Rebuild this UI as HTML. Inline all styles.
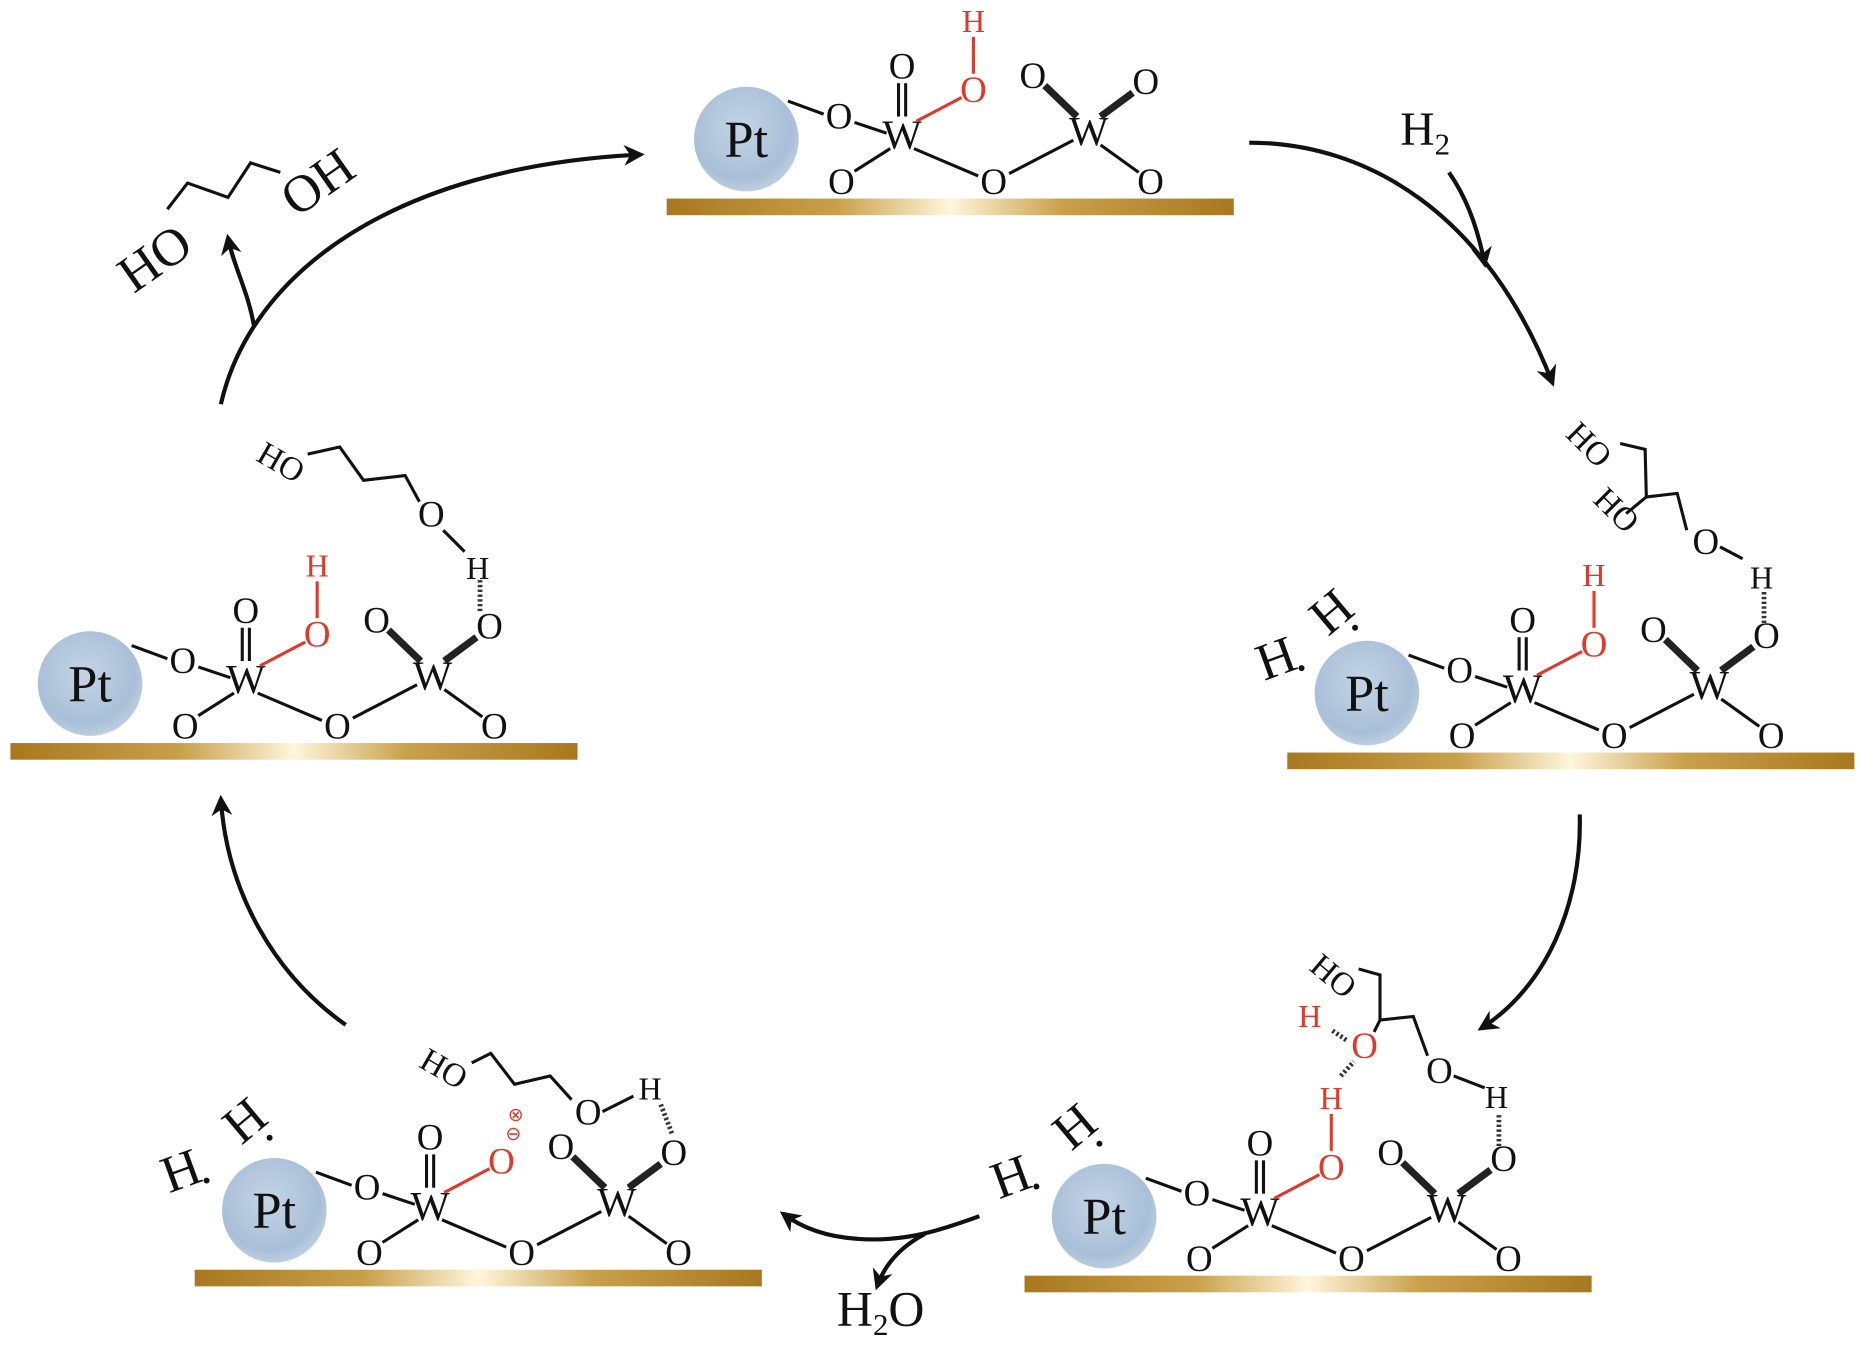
<!DOCTYPE html>
<html><head><meta charset="utf-8"><style>
html,body{margin:0;padding:0;background:#fff;}
svg{display:block}
text{font-family:"Liberation Serif",serif;fill:#111;text-anchor:middle}
.o{font-size:31px}
.w{font-size:35px}
.pt{font-size:44px}
.r{fill:#e0382a}
.b{stroke:#111;stroke-width:2.6;fill:none}
.rb{stroke:#e0382a;stroke-width:2.6;fill:none}
.tb{stroke:#222;stroke-width:6;fill:none}
.d{stroke:#333;stroke-width:4;stroke-dasharray:2 2;fill:none}
.ar{stroke:#111;stroke-width:3.5;fill:none}
.big{font-size:44px}
</style></head><body>
<svg width="1866" height="1347" viewBox="0 0 1568 1133" xmlns="http://www.w3.org/2000/svg">
<defs>
<linearGradient id="bar" x1="0" x2="1" y1="0" y2="0">
<stop offset="0" stop-color="#a8781e"/><stop offset="0.3" stop-color="#c9a04a"/>
<stop offset="0.5" stop-color="#fff6dc"/><stop offset="0.7" stop-color="#c9a04a"/>
<stop offset="1" stop-color="#a8781e"/></linearGradient>
<radialGradient id="ptg" cx="0.45" cy="0.4" r="0.6">
<stop offset="0" stop-color="#c4d4e6"/><stop offset="0.8" stop-color="#a9bfd8"/><stop offset="1" stop-color="#bccde0"/></radialGradient>
<marker id="ah" viewBox="0 0 10 10" refX="8" refY="5" markerWidth="5" markerHeight="5" orient="auto"><path d="M0,0 L10,5 L0,10 L3,5 z" fill="#111"/></marker>
</defs>

<!-- TOP UNIT -->
<g>
<rect x="560" y="167" width="477" height="14" fill="url(#bar)"/>
<circle cx="627" cy="117" r="44" fill="url(#ptg)"/>
<text class="pt" x="627" y="132">Pt</text>
<line class="b" x1="662" y1="85" x2="692" y2="96"/>
<text class="o" x="705" y="108">O</text>
<line class="b" x1="718" y1="103" x2="745" y2="112"/>
<text class="w" x="758" y="125">W</text>
<line class="b" x1="755" y1="70" x2="755" y2="98"/><line class="b" x1="761" y1="70" x2="761" y2="98"/>
<text class="o" x="758" y="66">O</text>
<line class="rb" x1="770" y1="102" x2="808" y2="82"/>
<text class="o r" x="818" y="86">O</text>
<line class="rb" x1="818" y1="31" x2="818" y2="62"/>
<text class="o r" x="818" y="27" style="font-size:27px">H</text>
<line class="b" x1="748" y1="125" x2="718" y2="144"/>
<text class="o" x="707" y="163">O</text>
<line class="b" x1="768" y1="125" x2="822" y2="148"/>
<text class="o" x="835" y="163">O</text>
<line class="b" x1="848" y1="146" x2="902" y2="118"/>
<text class="w" x="915" y="122">W</text>
<line class="tb" x1="878" y1="72" x2="905" y2="98"/>
<text class="o" x="868" y="74">O</text>
<line class="tb" x1="925" y1="98" x2="952" y2="78"/>
<text class="o" x="963" y="79">O</text>
<line class="b" x1="925" y1="122" x2="957" y2="145"/>
<text class="o" x="967" y="163">O</text>
</g>

<!-- LEFT UNIT -->
<g transform="translate(-552,458)">
<rect x="560" y="167" width="477" height="14" fill="url(#bar)"/>
<circle cx="627" cy="117" r="44" fill="url(#ptg)"/>
<text class="pt" x="627" y="132">Pt</text>
<line class="b" x1="662" y1="85" x2="692" y2="96"/>
<text class="o" x="705" y="108">O</text>
<line class="b" x1="718" y1="103" x2="745" y2="112"/>
<text class="w" x="758" y="125">W</text>
<line class="b" x1="755" y1="70" x2="755" y2="98"/><line class="b" x1="761" y1="70" x2="761" y2="98"/>
<text class="o" x="758" y="66">O</text>
<line class="rb" x1="770" y1="102" x2="808" y2="82"/>
<text class="o r" x="818" y="86">O</text>
<line class="rb" x1="818" y1="31" x2="818" y2="62"/>
<text class="o r" x="818" y="27" style="font-size:27px">H</text>
<line class="b" x1="748" y1="125" x2="718" y2="144"/>
<text class="o" x="707" y="163">O</text>
<line class="b" x1="768" y1="125" x2="822" y2="148"/>
<text class="o" x="835" y="163">O</text>
<line class="b" x1="848" y1="146" x2="902" y2="118"/>
<text class="w" x="915" y="122">W</text>
<line class="tb" x1="878" y1="72" x2="905" y2="98"/>
<text class="o" x="868" y="74">O</text>
<line class="tb" x1="925" y1="98" x2="952" y2="78"/>
<text class="o" x="963" y="79">O</text>
<line class="b" x1="925" y1="122" x2="957" y2="145"/>
<text class="o" x="967" y="163">O</text>
<line class="d" x1="955" y1="30" x2="955" y2="56"/>
<text class="o" x="953" y="29" style="font-size:27px">H</text>
</g>
<!-- left molecule -->
<text class="o" x="235" y="398" transform="rotate(30 235 390)" style="font-size:28px">HO</text>
<polyline class="b" points="258,382 285,376 305,404 340,400 352,422"/>
<text class="o" x="362" y="443">O</text>
<line class="b" x1="372" y1="446" x2="390" y2="464"/>

<!-- RIGHT UNIT -->
<g transform="translate(522,466)">
<rect x="560" y="167" width="477" height="14" fill="url(#bar)"/>
<circle cx="627" cy="117" r="44" fill="url(#ptg)"/>
<text class="pt" x="627" y="132">Pt</text>
<line class="b" x1="662" y1="85" x2="692" y2="96"/>
<text class="o" x="705" y="108">O</text>
<line class="b" x1="718" y1="103" x2="745" y2="112"/>
<text class="w" x="758" y="125">W</text>
<line class="b" x1="755" y1="70" x2="755" y2="98"/><line class="b" x1="761" y1="70" x2="761" y2="98"/>
<text class="o" x="758" y="66">O</text>
<line class="rb" x1="770" y1="102" x2="808" y2="82"/>
<text class="o r" x="818" y="86">O</text>
<line class="rb" x1="818" y1="31" x2="818" y2="62"/>
<text class="o r" x="818" y="27" style="font-size:27px">H</text>
<line class="b" x1="748" y1="125" x2="718" y2="144"/>
<text class="o" x="707" y="163">O</text>
<line class="b" x1="768" y1="125" x2="822" y2="148"/>
<text class="o" x="835" y="163">O</text>
<line class="b" x1="848" y1="146" x2="902" y2="118"/>
<text class="w" x="915" y="122">W</text>
<line class="tb" x1="878" y1="72" x2="905" y2="98"/>
<text class="o" x="868" y="74">O</text>
<line class="tb" x1="925" y1="98" x2="952" y2="78"/>
<text class="o" x="963" y="79">O</text>
<line class="b" x1="925" y1="122" x2="957" y2="145"/>
<text class="o" x="967" y="163">O</text>
<line class="d" x1="961" y1="32" x2="961" y2="58"/>
<text class="o" x="959" y="29" style="font-size:27px">H</text>
<text class="big" x="600" y="62" transform="rotate(-40 600 52)">H</text><circle cx="617" cy="62" r="2.5" fill="#111"/>
<text class="big" x="552" y="102" transform="rotate(-20 552 92)">H</text><circle cx="572" cy="96" r="2.5" fill="#111"/>
</g>
<!-- right molecule -->
<text class="o" x="1335" y="383" transform="rotate(45 1335 375)" style="font-size:28px">HO</text>
<text class="o" x="1358" y="438" transform="rotate(45 1358 430)" style="font-size:28px">HO</text>
<polyline class="b" points="1362,373 1383,378 1384,418 1367,432"/>
<polyline class="b" points="1384,418 1410,415 1418,446"/>
<text class="o" x="1434" y="466">O</text>
<line class="b" x1="1446" y1="460" x2="1465" y2="470"/>

<!-- BOTTOM RIGHT UNIT -->
<g transform="translate(301,906)">
<rect x="560" y="167" width="477" height="14" fill="url(#bar)"/>
<circle cx="627" cy="117" r="44" fill="url(#ptg)"/>
<text class="pt" x="627" y="132">Pt</text>
<line class="b" x1="662" y1="85" x2="692" y2="96"/>
<text class="o" x="705" y="108">O</text>
<line class="b" x1="718" y1="103" x2="745" y2="112"/>
<text class="w" x="758" y="125">W</text>
<line class="b" x1="755" y1="70" x2="755" y2="98"/><line class="b" x1="761" y1="70" x2="761" y2="98"/>
<text class="o" x="758" y="66">O</text>
<line class="rb" x1="770" y1="102" x2="808" y2="82"/>
<text class="o r" x="818" y="86">O</text>
<line class="rb" x1="818" y1="31" x2="818" y2="62"/>
<text class="o r" x="818" y="27" style="font-size:27px">H</text>
<line class="b" x1="748" y1="125" x2="718" y2="144"/>
<text class="o" x="707" y="163">O</text>
<line class="b" x1="768" y1="125" x2="822" y2="148"/>
<text class="o" x="835" y="163">O</text>
<line class="b" x1="848" y1="146" x2="902" y2="118"/>
<text class="w" x="915" y="122">W</text>
<line class="tb" x1="878" y1="72" x2="905" y2="98"/>
<text class="o" x="868" y="74">O</text>
<line class="tb" x1="925" y1="98" x2="952" y2="78"/>
<text class="o" x="963" y="79">O</text>
<line class="b" x1="925" y1="122" x2="957" y2="145"/>
<text class="o" x="967" y="163">O</text>
<line class="d" x1="959" y1="32" x2="959" y2="58"/>
<text class="o" x="957" y="26" style="font-size:27px">H</text>
<text class="big" x="605" y="55" transform="rotate(-40 605 45)">H</text><circle cx="623" cy="56" r="2.5" fill="#111"/>
<text class="big" x="550" y="98" transform="rotate(-20 550 88)">H</text><circle cx="570" cy="92" r="2.5" fill="#111"/>
</g>
<!-- bottom right molecule -->
<line class="d" x1="1127" y1="905" x2="1138" y2="893"/>
<text class="o r" x="1147" y="890">O</text>
<line class="d" x1="1120" y1="867" x2="1132" y2="875"/>
<text class="o r" x="1101" y="864" style="font-size:27px">H</text>
<text class="o" x="1120" y="830" transform="rotate(40 1120 822)" style="font-size:28px">HO</text>
<polyline class="b" points="1142,815 1160,820 1160,858 1155,868"/>
<polyline class="b" points="1160,858 1188,855 1200,888"/>
<text class="o" x="1210" y="911">O</text>
<line class="b" x1="1222" y1="905" x2="1248" y2="915"/>

<!-- BOTTOM LEFT UNIT -->
<g transform="translate(-397,901)">
<rect x="560" y="167" width="477" height="14" fill="url(#bar)"/>
<circle cx="627" cy="117" r="44" fill="url(#ptg)"/>
<text class="pt" x="627" y="132">Pt</text>
<line class="b" x1="662" y1="85" x2="692" y2="96"/>
<text class="o" x="705" y="108">O</text>
<line class="b" x1="718" y1="103" x2="745" y2="112"/>
<text class="w" x="758" y="125">W</text>
<line class="b" x1="755" y1="70" x2="755" y2="98"/><line class="b" x1="761" y1="70" x2="761" y2="98"/>
<text class="o" x="758" y="66">O</text>
<line class="rb" x1="770" y1="102" x2="808" y2="82"/>
<text class="o r" x="818" y="86">O</text>
<text class="r" x="828" y="58" style="font-size:16px">⊖</text>
<text class="r" x="830" y="42" style="font-size:16px">⊗</text>
<line class="b" x1="748" y1="125" x2="718" y2="144"/>
<text class="o" x="707" y="163">O</text>
<line class="b" x1="768" y1="125" x2="822" y2="148"/>
<text class="o" x="835" y="163">O</text>
<line class="b" x1="848" y1="146" x2="902" y2="118"/>
<text class="w" x="915" y="122">W</text>
<line class="tb" x1="878" y1="72" x2="905" y2="98"/>
<text class="o" x="868" y="74">O</text>
<line class="tb" x1="925" y1="98" x2="952" y2="78"/>
<text class="o" x="963" y="79">O</text>
<line class="b" x1="925" y1="122" x2="957" y2="145"/>
<text class="o" x="967" y="163">O</text>
<line class="d" x1="952" y1="28" x2="962" y2="54"/>
<text class="o" x="943" y="24" style="font-size:27px">H</text>
<text class="big" x="605" y="55" transform="rotate(-40 605 45)">H</text><circle cx="623" cy="56" r="2.5" fill="#111"/>
<text class="big" x="550" y="98" transform="rotate(-20 550 88)">H</text><circle cx="570" cy="92" r="2.5" fill="#111"/>
</g>
<!-- bottom left molecule -->
<text class="o" x="372" y="908" transform="rotate(30 372 900)" style="font-size:28px">HO</text>
<polyline class="b" points="396,894 412,886 432,912 462,905 480,925"/>
<text class="o" x="494" y="946">O</text>
<line class="b" x1="506" y1="935" x2="532" y2="922"/>

<!-- ARROWS -->
<path class="ar" d="M185,340 C210,230 330,140 538,130" marker-end="url(#ah)"/>
<path class="ar" d="M213,275 C208,245 196,225 191,200" marker-end="url(#ah)"/>
<text x="132" y="231" transform="rotate(-35 132 221)" style="font-size:44px">HO</text>
<text x="269" y="167" transform="rotate(-35 269 157)" style="font-size:44px">OH</text>
<polyline class="b" points="140,176 157,154 191,166 210,137 235,145"/>

<path class="ar" d="M1050,120 C1150,120 1250,180 1305,322" marker-end="url(#ah)"/>
<text x="1198" y="122" style="font-size:40px">H<tspan dy="8" style="font-size:26px">2</tspan></text>
<path class="ar" d="M1218,145 C1232,165 1242,190 1248,222" marker-end="url(#ah)"/>

<path class="ar" d="M1328,685 C1330,760 1300,830 1245,865" marker-end="url(#ah)"/>

<path class="ar" d="M823,1023 C790,1035 760,1045 720,1042 C690,1040 670,1030 658,1021" marker-end="url(#ah)"/>
<path class="ar" d="M777,1038 C758,1048 744,1062 737,1082" marker-end="url(#ah)"/>
<text x="740" y="1115" style="font-size:42px">H<tspan dy="8" style="font-size:26px">2</tspan><tspan dy="-8">O</tspan></text>

<path class="ar" d="M290,862 C230,820 190,750 185,672" marker-end="url(#ah)"/>
</svg>
</body></html>
